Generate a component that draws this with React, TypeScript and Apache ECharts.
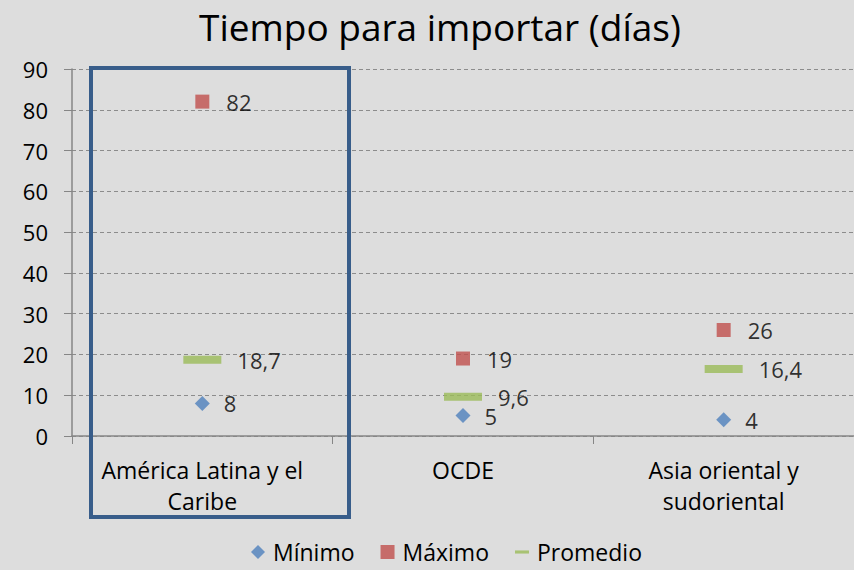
import React, { useEffect, useRef } from "react";
import * as echarts from "echarts";

const categories = ["América Latina y el\nCaribe", "OCDE", "Asia oriental y\nsudoriental"];
const minimo = [8, 5, 4];
const maximo = [82, 19, 26];
const promedio = [18.7, 9.6, 16.4];
const yTicks = { min: 0, max: 90, interval: 10 };

const FONT = "'Open Sans', 'Noto Sans', sans-serif";

const fmt = (v: number) => String(v).replace(".", ",");

export default function App() {
  const ref = useRef<HTMLDivElement>(null);
  useEffect(() => {
    if (!ref.current) return;
    const chart = echarts.init(ref.current, null, { renderer: "svg" });
    const label = {
      show: true,
      position: "right" as const,
      distance: 14,
      color: "#000",
      fontSize: 22,
      fontFamily: FONT,
      formatter: (p: any) => fmt(p.value),
    };
    chart.setOption({
      animation: false,
      backgroundColor: "#DDDDDD",
      textStyle: { fontFamily: FONT },
      title: {
        text: "Tiempo para importar (días)",
        left: 194,
        top: 3,
        textStyle: { fontSize: 37, fontWeight: "normal", color: "#000", fontFamily: FONT },
      },
      legend: {
        top: 540,
        left: 251,
        padding: 0,
        itemGap: 26,
        itemWidth: 14,
        itemHeight: 14,
        textStyle: {
          fontSize: 23,
          lineHeight: 24,
          color: "#000",
          fontFamily: FONT,
          padding: [0, 0, 0, 3],
        },
        data: [
          { name: "Mínimo", icon: "diamond" },
          { name: "Máximo", icon: "rect" },
          { name: "Promedio", icon: "path://M0,0h18v4h-18z" },
        ],
      },
      grid: { left: 72, right: 0, top: 69, bottom: 134, containLabel: false },
      xAxis: {
        type: "category",
        data: categories,
        boundaryGap: true,
        axisLine: { lineStyle: { color: "#868686", width: 1.5 } },
        axisTick: { show: true, length: 8, lineStyle: { color: "#868686" }, alignWithLabel: false },
        axisLabel: {
          interval: 0,
          color: "#000",
          fontSize: 23,
          lineHeight: 31,
          margin: 18,
          fontFamily: FONT,
        },
      },
      yAxis: {
        type: "value",
        min: yTicks.min,
        max: yTicks.max,
        interval: yTicks.interval,
        axisLine: { show: true, lineStyle: { color: "#868686", width: 1.5 } },
        axisTick: { show: true, inside: false, length: 8, lineStyle: { color: "#868686" } },
        axisLabel: { color: "#000", fontSize: 22, margin: 24, fontFamily: FONT },
        splitLine: { show: true, lineStyle: { color: "#8C8C8C", type: [4, 3], width: 1 } },
      },
      series: [
        {
          name: "Mínimo",
          type: "scatter",
          data: minimo,
          symbol: "diamond",
          symbolSize: 15,
          itemStyle: { color: "#4F81BD" },
          label,
        },
        {
          name: "Máximo",
          type: "scatter",
          data: maximo,
          symbol: "rect",
          symbolSize: 14,
          itemStyle: { color: "#C0504D" },
          label: { ...label, distance: 17 },
        },
        {
          name: "Promedio",
          type: "scatter",
          data: promedio,
          symbol: "rect",
          symbolSize: [38, 8],
          itemStyle: { color: "#9BBB59" },
          label: { ...label, distance: 16 },
        },
      ],
      graphic: [
        {
          type: "rect",
          shape: { x: 91, y: 68, width: 258, height: 449 },
          style: { fill: "none", stroke: "#385D8A", lineWidth: 4 },
          z: 10,
        },
      ],
    });
    return () => chart.dispose();
  }, []);
  return (
    <div
      ref={ref}
      style={{ position: "fixed", left: 0, top: 0, width: 854, height: 570 }}
    />
  );
}
